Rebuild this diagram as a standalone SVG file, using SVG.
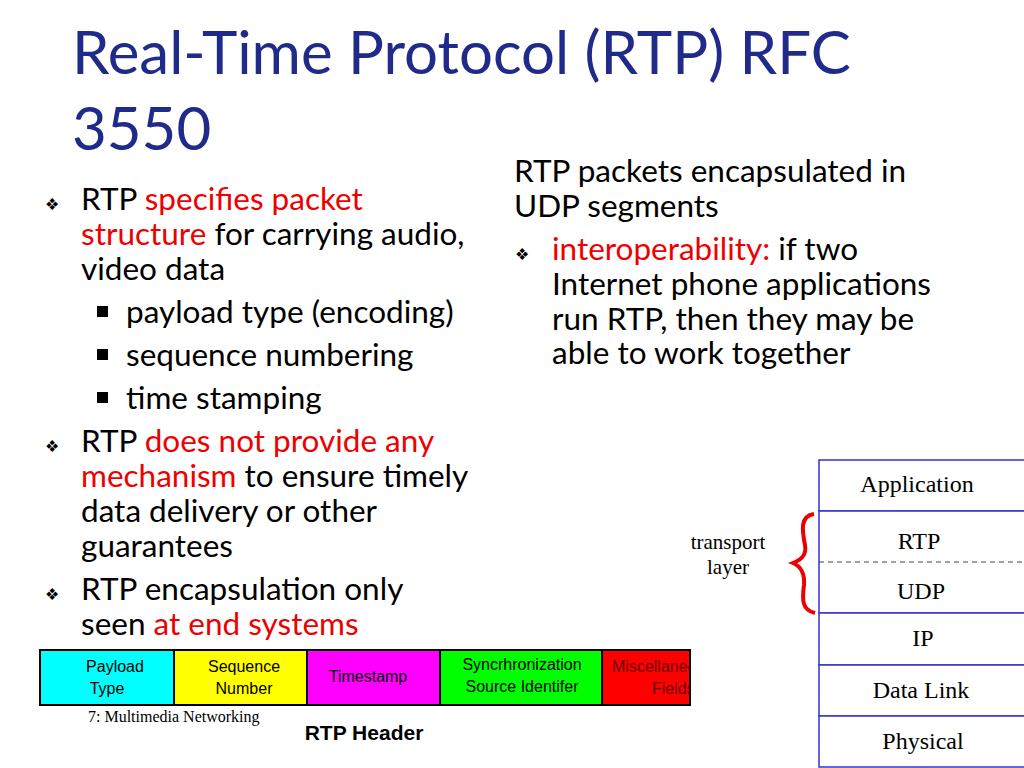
<svg xmlns="http://www.w3.org/2000/svg" width="1024" height="768" viewBox="0 0 1024 768">
<style>
.t{font-family:Lato,"Open Sans",sans-serif;fill:#000}
.b{font-size:31.5px}
.r{fill:#e00}
.s{font-family:"Liberation Serif",serif;font-size:24px;fill:#000;text-anchor:middle}
.h{font-family:"Liberation Sans",Arial,sans-serif;font-size:16px;text-anchor:middle}
.cell{stroke:#000;stroke-width:2}
.lay{fill:#fff;stroke:#33c;stroke-width:1.5}
</style>
<rect width="1024" height="768" fill="#fff"/>
<g id="title"><text class="t" x="72" y="74" font-size="60" style="fill:#1f2a8a">Real-Time Protocol (RTP) RFC</text>
<text class="t" x="72" y="150" font-size="60" style="fill:#1f2a8a">3550</text></g>
<g id="left" class="t b">
<text x="45" y="210" font-size="16">❖</text>
<text x="81" y="210">RTP <tspan class="r">specifies packet</tspan></text>
<text x="81" y="245"><tspan class="r">structure</tspan> for carrying audio,</text>
<text x="81" y="280">video data</text>
<rect x="97" y="306" width="11" height="11" fill="#000"/><text x="126" y="323">payload type (encoding)</text>
<rect x="97" y="349" width="11" height="11" fill="#000"/><text x="126" y="366">sequence numbering</text>
<rect x="97" y="392" width="11" height="11" fill="#000"/><text x="126" y="409">time stamping</text>
<text x="45" y="452" font-size="16">❖</text>
<text x="81" y="452">RTP <tspan class="r">does not provide any</tspan></text>
<text x="81" y="487"><tspan class="r">mechanism</tspan> to ensure timely</text>
<text x="81" y="522">data delivery or other</text>
<text x="81" y="557">guarantees</text>
<text x="45" y="600" font-size="16">❖</text>
<text x="81" y="600">RTP encapsulation only</text>
<text x="81" y="635">seen <tspan class="r">at end systems</tspan></text>
</g>
<g id="right" class="t b">
<text x="514" y="182">RTP packets encapsulated in</text>
<text x="514" y="217">UDP segments</text>
<text x="515" y="260" font-size="16">❖</text>
<text x="552" y="260"><tspan class="r">interoperability:</tspan> if two</text>
<text x="552" y="295">Internet phone applications</text>
<text x="552" y="330">run RTP, then they may be</text>
<text x="552" y="364">able to work together</text>
</g>
<g id="header">
<rect class="cell" x="40" y="650" width="134" height="55" fill="#0ff"/>
<rect class="cell" x="174" y="650" width="133" height="55" fill="#ff0"/>
<rect class="cell" x="307" y="650" width="133" height="55" fill="#f0f"/>
<rect class="cell" x="440" y="650" width="162" height="55" fill="#0f0"/>
<rect class="cell" x="602" y="650" width="88" height="55" fill="#f00"/>
<text class="h" x="115" y="672">Payload</text><text class="h" x="107" y="694">Type</text>
<text class="h" x="244" y="672">Sequence</text><text class="h" x="244" y="694">Number</text>
<text class="h" x="368" y="682">Timestamp</text>
<text class="h" x="522" y="670">Syncrhronization</text><text class="h" x="522" y="692">Source Identifer</text>
<svg x="602" y="650" width="88" height="55"><text class="h" x="10" y="22" style="text-anchor:start;fill:#600">Miscellaneous</text><text class="h" x="50" y="44" style="text-anchor:start;fill:#600">Fields</text></svg>
<text x="88" y="722" font-family="Liberation Serif,serif" font-size="16">7: Multimedia Networking</text>
<text x="364" y="740" font-family="Liberation Sans,Arial,sans-serif" font-size="21" font-weight="bold" text-anchor="middle">RTP Header</text>
</g>
<g id="stack">
<rect class="lay" x="819" y="460" width="210" height="51"/>
<rect class="lay" x="819" y="511" width="210" height="102"/>
<line x1="819" y1="562" x2="1024" y2="562" stroke="#444" stroke-dasharray="5,4"/>
<rect class="lay" x="819" y="613" width="210" height="52"/>
<rect class="lay" x="819" y="665" width="210" height="51"/>
<rect class="lay" x="819" y="716" width="210" height="51"/>
<text class="s" x="917" y="492">Application</text>
<text class="s" x="919" y="549">RTP</text>
<text class="s" x="921" y="599">UDP</text>
<text class="s" x="923" y="646">IP</text>
<text class="s" x="921" y="698">Data Link</text>
<text class="s" x="923" y="749">Physical</text>
<text class="s" x="728" y="549" style="font-size:21px">transport</text>
<text class="s" x="728" y="574" style="font-size:21px">layer</text>
<path d="M814,514 C800,516 802,530 805,545 C807,556 800,560 793,563 C800,566 805,572 804,585 C802,600 802,610 815,613" fill="none" stroke="#e00" stroke-width="4"/>
</g>
</svg>
